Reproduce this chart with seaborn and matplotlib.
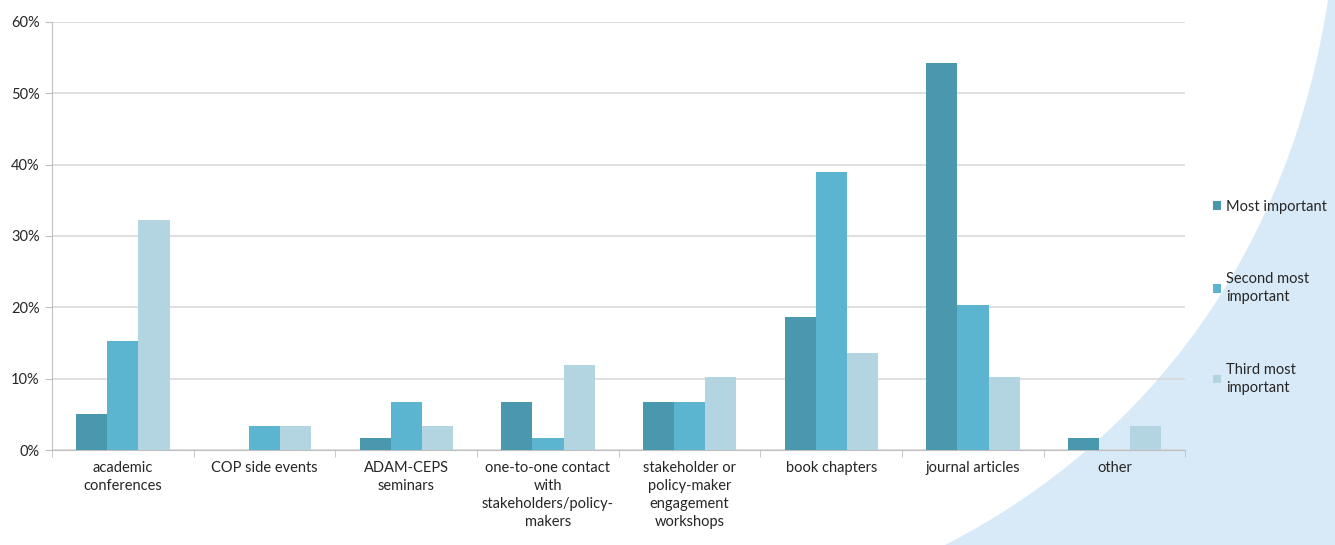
import pandas as pd
import seaborn as sns
import matplotlib.pyplot as plt
from matplotlib.path import Path
from matplotlib.patches import PathPatch
from matplotlib.ticker import FuncFormatter, FixedLocator

categories = ["academic\nconferences", "COP side events", "ADAM-CEPS\nseminars",
              "one-to-one contact\nwith\nstakeholders/policy-\nmakers",
              "stakeholder or\npolicy-maker\nengagement\nworkshops",
              "book chapters", "journal articles", "other"]
series = ["Most important", "Second most\nimportant", "Third most\nimportant"]
most = [5.1, 0.0, 1.7, 6.8, 6.8, 18.6, 54.2, 1.7]
second = [15.3, 3.4, 6.8, 1.7, 6.8, 39.0, 20.3, 0.0]
third = [32.2, 3.4, 3.4, 11.9, 10.2, 13.6, 10.2, 3.4]
colors = ["#4a98ae", "#5bb5d0", "#b3d5e1"]

df = pd.DataFrame({"category": categories * 3,
                   "series": sum([[s] * len(categories) for s in series], []),
                   "value": most + second + third})

sns.set_style("white")
plt.rcParams['font.family'] = ['Lato', 'DejaVu Sans']

fig = plt.figure(figsize=(13.35, 5.45), dpi=100)
fig.patch.set_facecolor("white")

# light blue swoosh in the background (pixel coords, y down)
bg = fig.add_axes([0, 0, 1, 1], zorder=-1)
bg.axis("off")
bg.set_xlim(0, 1335)
bg.set_ylim(545, 0)
pts = [(1328, 0), (1290, 250), (1150, 440), (945, 545), (1335, 545), (1335, 0), (1328, 0)]
codes = [Path.MOVETO, Path.CURVE4, Path.CURVE4, Path.CURVE4, Path.LINETO, Path.LINETO, Path.CLOSEPOLY]
bg.add_patch(PathPatch(Path(pts, codes), facecolor="#d8e9f7", edgecolor="none"))

ax = fig.add_axes([0.039, 0.174, 0.849, 0.786])
ax.set_facecolor("none")
sns.barplot(data=df, x="category", y="value", hue="series", palette=colors,
            width=0.66, saturation=1, linewidth=0, ax=ax, zorder=3)

ax.set_ylim(0, 60)
ax.set_xlim(-0.5, len(categories) - 0.5)
ax.set_yticks(range(0, 61, 10))
ax.yaxis.set_major_formatter(FuncFormatter(lambda v, p: f"{int(v)}%"))
ax.yaxis.grid(True, color="#d9d9d9", linewidth=1.2)
ax.set_axisbelow(True)
ax.set_xlabel("")
ax.set_ylabel("")
for s in ["top", "right"]:
    ax.spines[s].set_visible(False)
ax.spines["left"].set_color("#bfbfbf")
ax.spines["bottom"].set_color("#bfbfbf")
ax.tick_params(axis="x", which="major", length=0, pad=8, labelsize=10.5)
ax.xaxis.set_minor_locator(FixedLocator([i - 0.5 for i in range(len(categories) + 1)]))
ax.tick_params(axis="x", which="minor", length=5, color="#bfbfbf", bottom=True)
ax.tick_params(axis="y", length=5, color="#bfbfbf", left=True, labelsize=10.5, pad=4)
for lab in ax.get_xticklabels():
    lab.set_linespacing(1.35)

leg = ax.legend(loc="center left", bbox_to_anchor=(1.013, 0.357), frameon=False,
                handlelength=0.55, handleheight=0.55, handletextpad=0.35,
                labelspacing=4.0, fontsize=10.5)
for t in leg.get_texts():
    t.set_linespacing(1.37)

fig.savefig("out.png", dpi=100)
